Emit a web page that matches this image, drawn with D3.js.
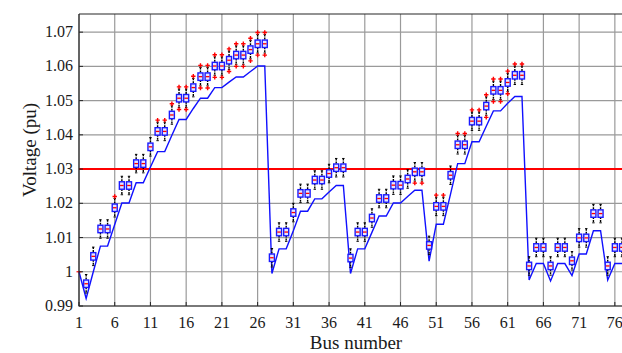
<!DOCTYPE html>
<html>
<head>
<meta charset="utf-8">
<script src="https://cdn.jsdelivr.net/npm/d3@7"></script>
<style>
  body { margin: 0; background: #fff; }
  svg { display: block; }
  svg text { font-family: "Liberation Serif", "DejaVu Serif", "Times New Roman", Times, serif; }
</style>
</head>
<body>
<div id="chart"></div>
<script>
// bus numbers 1..77
const buses = d3.range(1, 78);

// blue line: base voltage profile
const lineVoltage = [
  1.0000, 0.9922, 1.0000, 1.0075, 1.0075, 1.0138, 1.0201, 1.0201, 1.0260, 1.0260,
  1.0306, 1.0351, 1.0351, 1.0399, 1.0445, 1.0445, 1.0477, 1.0507, 1.0507, 1.0538,
  1.0538, 1.0554, 1.0569, 1.0569, 1.0585, 1.0601, 1.0601, 0.9995, 1.0067, 1.0067,
  1.0120, 1.0177, 1.0177, 1.0213, 1.0213, 1.0233, 1.0252, 1.0252, 0.9995, 1.0067,
  1.0067, 1.0115, 1.0163, 1.0163, 1.0201, 1.0201, 1.0220, 1.0238, 1.0238, 1.0031,
  1.0139, 1.0139, 1.0227, 1.0316, 1.0316, 1.0380, 1.0380, 1.0425, 1.0470, 1.0470,
  1.0492, 1.0512, 1.0512, 0.9976, 1.0024, 1.0024, 0.9973, 1.0024, 1.0024, 0.9989,
  1.0052, 1.0052, 1.0120, 1.0120, 0.9976, 1.0024, 1.0024
];

// boxplot medians per bus
const boxMedian = [
  1.0000, 0.9965, 1.0045, 1.0125, 1.0125, 1.0187, 1.0252, 1.0252, 1.0316, 1.0316,
  1.0365, 1.0410, 1.0410, 1.0458, 1.0507, 1.0507, 1.0538, 1.0570, 1.0570, 1.0601,
  1.0601, 1.0618, 1.0633, 1.0633, 1.0649, 1.0666, 1.0666, 1.0041, 1.0116, 1.0116,
  1.0173, 1.0229, 1.0229, 1.0268, 1.0268, 1.0287, 1.0304, 1.0304, 1.0040, 1.0116,
  1.0116, 1.0157, 1.0214, 1.0214, 1.0253, 1.0253, 1.0271, 1.0292, 1.0292, 1.0077,
  1.0191, 1.0191, 1.0282, 1.0371, 1.0371, 1.0440, 1.0440, 1.0484, 1.0530, 1.0530,
  1.0553, 1.0574, 1.0574, 1.0017, 1.0071, 1.0071, 1.0017, 1.0071, 1.0071, 1.0032,
  1.0099, 1.0099, 1.0170, 1.0170, 1.0017, 1.0071, 1.0071
];
const boxHalfIqr = 0.001;
const whiskerHalf = 0.0027;
const outlierOffset = 0.0033;
// buses with outliers above / below the whiskers
const outHigh = [6, 12, 13, 14, 15, 16, 17, 18, 19, 20, 21, 22, 23, 24, 25, 26, 27,
  51, 52, 54, 55, 56, 57, 58, 59, 60, 61, 62, 63];
const outLow = [15, 16, 18, 19, 20, 21, 22, 23, 24, 25, 26, 27, 48, 49, 58, 59, 60, 61];

const limitVoltage = 1.03;
const xTicks = [1, 6, 11, 16, 21, 26, 31, 36, 41, 46, 51, 56, 61, 66, 71, 76];
const yTicks = [0.99, 1, 1.01, 1.02, 1.03, 1.04, 1.05, 1.06, 1.07];

const W = 622, H = 353;
const pl = 79, pt = 14, pr = 622, pb = 306;

const svg = d3.select('#chart').append('svg')
  .attr('width', W).attr('height', H);

const x = d3.scaleLinear().domain([1, 77]).range([pl, pr]);
const y = d3.scaleLinear().domain([0.99, 1.0753]).range([pb, pt]);

// grid
svg.append('g')
  .selectAll('line').data(xTicks).enter().append('line')
  .attr('x1', d => x(d)).attr('x2', d => x(d))
  .attr('y1', pt).attr('y2', pb)
  .attr('stroke', '#9a9a9a').attr('stroke-width', 1.2);
svg.append('g')
  .selectAll('line').data(yTicks).enter().append('line')
  .attr('x1', pl).attr('x2', pr)
  .attr('y1', d => y(d)).attr('y2', d => y(d))
  .attr('stroke', '#9a9a9a').attr('stroke-width', 1.2);

// limit line
svg.append('line')
  .attr('x1', pl).attr('x2', pr)
  .attr('y1', y(limitVoltage)).attr('y2', y(limitVoltage))
  .attr('stroke', '#ff0000').attr('stroke-width', 2);

// voltage profile
svg.append('path')
  .datum(buses)
  .attr('fill', 'none')
  .attr('stroke', '#1010ff')
  .attr('stroke-width', 1.4)
  .attr('d', d3.line().x(d => x(d)).y((d, i) => y(lineVoltage[i])));

// boxplots
const boxes = svg.append('g');
const bw = 5;
buses.forEach((b, i) => {
  const m = boxMedian[i];
  const cx = x(b);
  if (i === 0) {
    boxes.append('line')
      .attr('x1', cx - bw / 2).attr('x2', cx + bw / 2)
      .attr('y1', y(m)).attr('y2', y(m))
      .attr('stroke', '#ff0000').attr('stroke-width', 1.2);
    return;
  }
  const g = boxes.append('g');
  // whiskers
  g.append('line')
    .attr('x1', cx).attr('x2', cx)
    .attr('y1', y(m + whiskerHalf)).attr('y2', y(m + boxHalfIqr))
    .attr('stroke', '#000').attr('stroke-width', 1.4).attr('stroke-dasharray', '2,1');
  g.append('line')
    .attr('x1', cx).attr('x2', cx)
    .attr('y1', y(m - boxHalfIqr)).attr('y2', y(m - whiskerHalf))
    .attr('stroke', '#000').attr('stroke-width', 1.4).attr('stroke-dasharray', '2,1');
  [m + whiskerHalf, m - whiskerHalf].forEach(v => {
    g.append('line')
      .attr('x1', cx - 1.2).attr('x2', cx + 1.2)
      .attr('y1', y(v)).attr('y2', y(v))
      .attr('stroke', '#000').attr('stroke-width', 1);
  });
  g.append('rect')
    .attr('x', cx - bw / 2).attr('width', bw)
    .attr('y', y(m + boxHalfIqr) - 0.3).attr('height', y(m - boxHalfIqr) - y(m + boxHalfIqr) + 0.6)
    .attr('fill', '#e6e6ff').attr('stroke', '#1a1aff').attr('stroke-width', 1.4);
  g.append('line')
    .attr('x1', cx - bw / 2 + 0.7).attr('x2', cx + bw / 2 - 0.7)
    .attr('y1', y(m)).attr('y2', y(m))
    .attr('stroke', '#ff0000').attr('stroke-width', 1.3);
});

// outliers
const plus = (cx, cy) => {
  boxes.append('path')
    .attr('d', `M${cx - 2.2},${cy}H${cx + 2.2}M${cx},${cy - 2.2}V${cy + 2.2}`)
    .attr('stroke', '#ff0000').attr('stroke-width', 1.4).attr('fill', 'none');
};
outHigh.forEach(b => plus(x(b), y(boxMedian[b - 1] + outlierOffset)));
outLow.forEach(b => plus(x(b), y(boxMedian[b - 1] - outlierOffset)));

// axes frame
svg.append('path')
  .attr('d', `M${pl},${pt}H${pr + 2}M${pl},${pt}V${pb}H${pr + 2}`)
  .attr('stroke', '#262626').attr('stroke-width', 1.2).attr('fill', 'none');

// ticks (inward)
svg.append('g').selectAll('line').data(xTicks).enter().append('line')
  .attr('x1', d => x(d)).attr('x2', d => x(d))
  .attr('y1', pb).attr('y2', pb - 4)
  .attr('stroke', '#262626');
svg.append('g').selectAll('line').data(yTicks).enter().append('line')
  .attr('x1', pl).attr('x2', pl + 4)
  .attr('y1', d => y(d)).attr('y2', d => y(d))
  .attr('stroke', '#262626');

// tick labels
svg.append('g').selectAll('text').data(xTicks).enter().append('text')
  .attr('x', d => x(d)).attr('y', 328)
  .attr('text-anchor', 'middle')
  .attr('font-size', 16)
  .attr('fill', '#1a1a1a')
  .text(d => d);
svg.append('g').selectAll('text').data(yTicks).enter().append('text')
  .attr('x', 73).attr('y', d => y(d) + 5)
  .attr('text-anchor', 'end')
  .attr('font-size', 16)
  .attr('fill', '#1a1a1a')
  .text(d => d3.format('~g')(d));

// axis labels
svg.append('text')
  .attr('x', 356).attr('y', 349)
  .attr('text-anchor', 'middle')
  .attr('font-size', 19)
  .attr('fill', '#1a1a1a')
  .text('Bus number');
svg.append('text')
  .attr('transform', 'translate(36,150) rotate(-90)')
  .attr('text-anchor', 'middle')
  .attr('font-size', 19)
  .attr('fill', '#1a1a1a')
  .text('Voltage (pu)');
</script>
</body>
</html>
